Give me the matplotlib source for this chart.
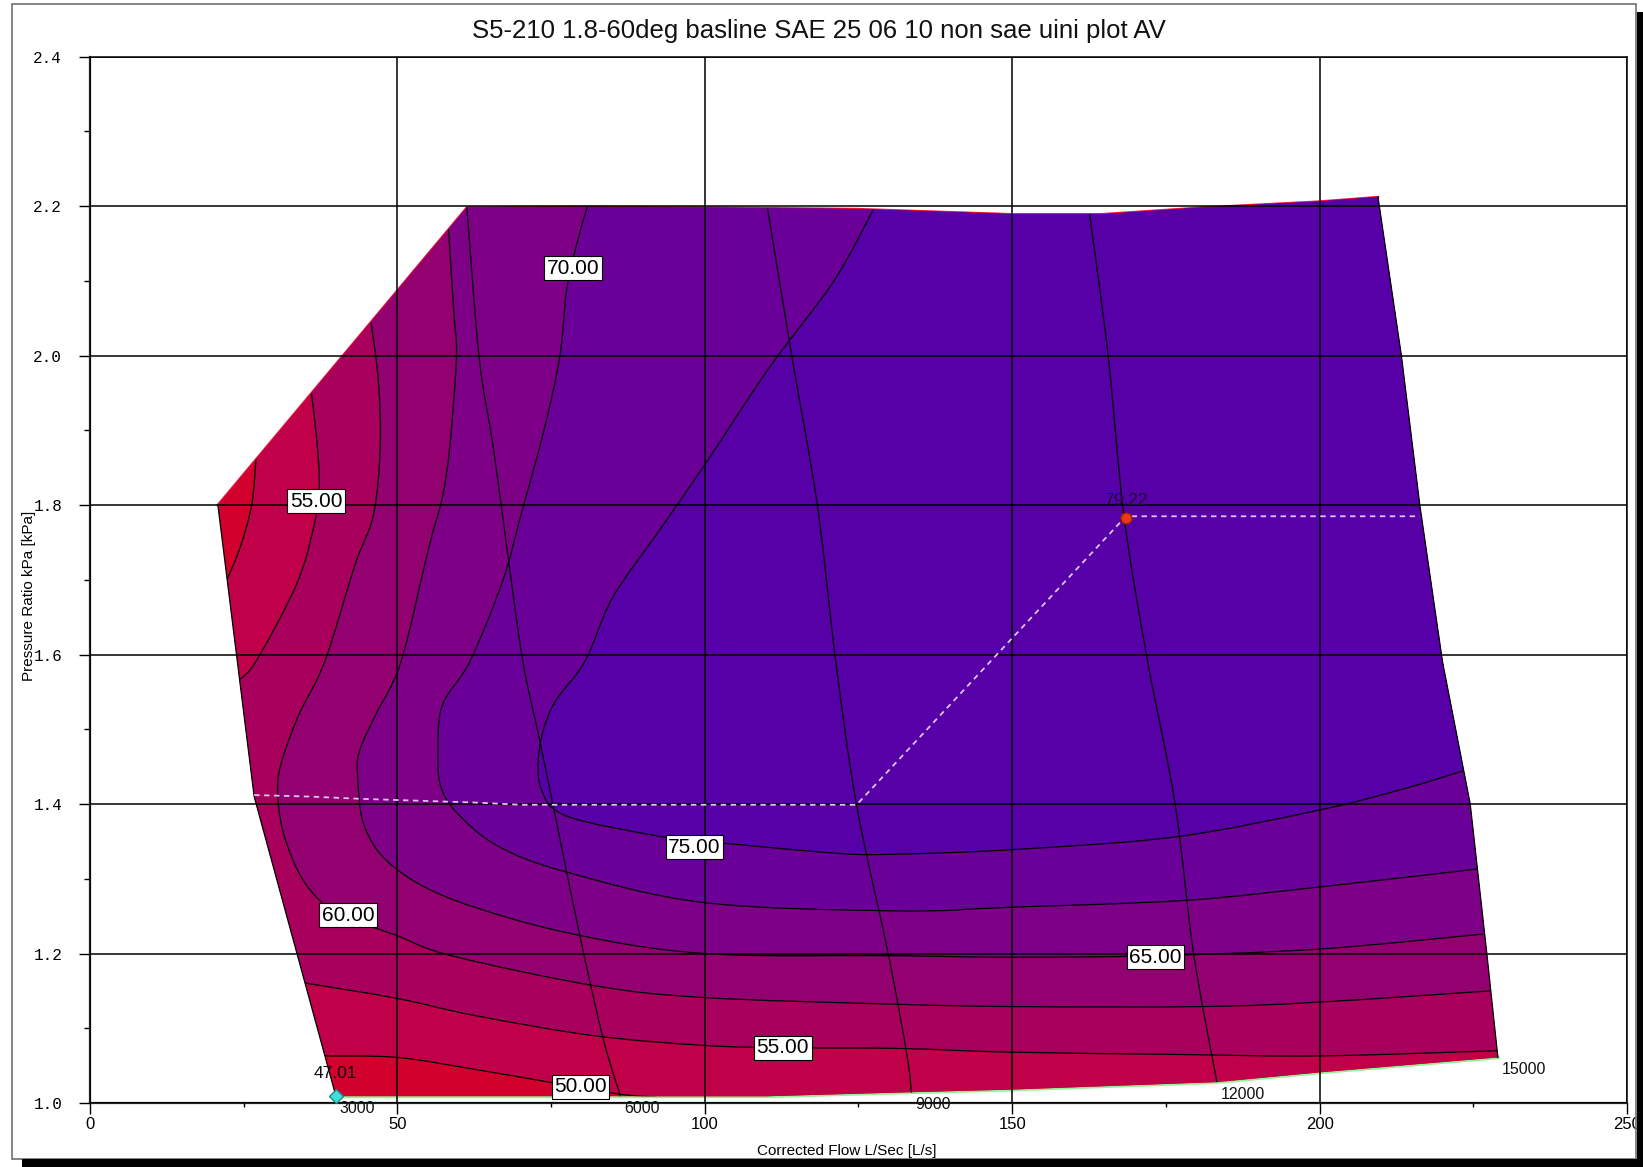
import numpy as np
import matplotlib
matplotlib.use("Agg")
import matplotlib.pyplot as plt
from matplotlib.patches import Polygon, Rectangle, PathPatch
from matplotlib.path import Path
from matplotlib.ticker import MultipleLocator, FormatStrFormatter

plt.rcParams['font.family'] = ['Liberation Sans', 'DejaVu Sans']

TITLE = "S5-210 1.8-60deg basline SAE 25 06 10 non sae uini plot AV"
X_LABEL = "Corrected Flow L/Sec [L/s]"
Y_LABEL = "Pressure Ratio kPa [kPa]"
X_MIN, X_MAX = 0, 250
Y_MIN, Y_MAX = 1.0, 2.4

# ---- map outline (flow, pressure ratio) ----
map_x = [40.0, 26.7, 20.8, 61.3, 80.0, 99.3, 124.7, 150.0, 164.5, 181.0, 200.0, 209.5,
         213.3, 216.3, 220.0, 224.5, 227.2, 229.0, 200.0, 183.3, 150.0, 131.5, 110.0]
map_y = [1.009, 1.410, 1.800, 2.198, 2.199, 2.198, 2.196, 2.189, 2.189, 2.198, 2.206, 2.212,
         2.000, 1.800, 1.590, 1.400, 1.200, 1.061, 1.041, 1.028, 1.018, 1.014, 1.009]

# ---- speed lines ----
speed_names = ["3000", "6000", "9000", "12000", "15000"]
sl3000_x = [20.8, 26.7, 40.0]
sl3000_y = [1.800, 1.410, 1.009]
sl6000_x = [61.3, 63.3, 65.6, 67.8, 70.4, 73.1, 76.0, 79.8, 83.5, 86.3]
sl6000_y = [2.198, 1.997, 1.877, 1.743, 1.591, 1.487, 1.371, 1.219, 1.085, 1.009]
sl9000_x = [110.2, 114.2, 118.3, 121.3, 124.7, 129.9, 132.9, 133.6]
sl9000_y = [2.197, 1.997, 1.800, 1.591, 1.398, 1.197, 1.063, 1.014]
sl12000_x = [162.6, 165.6, 168.2, 172.0, 176.5, 179.5, 183.3]
sl12000_y = [2.189, 2.000, 1.784, 1.592, 1.400, 1.200, 1.028]
sl15000_x = [209.5, 213.3, 216.3, 220.0, 224.5, 227.2, 229.0]
sl15000_y = [2.212, 2.000, 1.800, 1.590, 1.400, 1.200, 1.061]

# ---- efficiency iso-lines ----
levels = [50, 55, 60, 65, 70, 75]
c50_top_x = [27.0, 26.3, 24.4, 22.0]
c50_top_y = [1.862, 1.800, 1.743, 1.695]
c50_bot_x = [37.9, 49.9, 62.6, 75.3, 86.0, 92.0]
c50_bot_y = [1.063, 1.061, 1.045, 1.027, 1.012, 1.008]
c55_top_x = [36.0, 36.8, 37.3, 36.8, 33.8, 27.0, 24.0]
c55_top_y = [1.950, 1.894, 1.832, 1.787, 1.698, 1.591, 1.565]
c55_bot_x = [34.6, 49.9, 62.6, 82.0, 100.0, 112.9, 131.5, 150.0, 176.5, 200.0, 229.0]
c55_bot_y = [1.161, 1.140, 1.117, 1.090, 1.077, 1.074, 1.073, 1.068, 1.065, 1.063, 1.070]
c60_x = [45.7, 46.9, 47.2, 46.1, 43.1, 38.2, 34.0, 31.3, 30.5, 31.5, 34.9, 40.1, 49.9, 58.8,
         82.0, 100.0, 131.5, 150.0, 181.0, 200.0, 227.8]
c60_y = [2.045, 1.966, 1.877, 1.787, 1.720, 1.591, 1.520, 1.460, 1.420, 1.360, 1.295, 1.255,
         1.224, 1.197, 1.157, 1.141, 1.132, 1.129, 1.129, 1.135, 1.150]
c65_x = [58.3, 59.2, 59.6, 58.5, 57.3, 55.1, 50.6, 46.5, 44.0, 43.5, 44.6, 49.1, 58.8, 77.5,
         100.0, 131.5, 150.0, 173.0, 200.0, 226.6]
c65_y = [2.170, 2.055, 1.997, 1.877, 1.810, 1.743, 1.591, 1.520, 1.475, 1.442, 1.371, 1.318,
         1.273, 1.228, 1.200, 1.197, 1.195, 1.197, 1.206, 1.226]
c70_x = [80.9, 79.0, 77.5, 76.4, 73.8, 70.1, 67.1, 61.8, 57.3, 56.6, 57.0, 59.6, 66.3, 77.5,
         100.0, 131.5, 150.0, 178.0, 200.0, 225.6]
c70_y = [2.200, 2.144, 2.086, 1.998, 1.899, 1.787, 1.698, 1.591, 1.532, 1.470, 1.425, 1.389,
         1.344, 1.309, 1.268, 1.257, 1.262, 1.271, 1.289, 1.313]
c75_x = [127.7, 121.0, 110.5, 100.0, 92.5, 85.0, 80.5, 75.3, 73.1, 73.4, 77.5, 92.5, 100.0,
         121.7, 131.5, 150.0, 176.5, 200.0, 214.0, 223.6]
c75_y = [2.200, 2.100, 1.984, 1.854, 1.765, 1.676, 1.591, 1.532, 1.474, 1.420, 1.384, 1.357,
         1.350, 1.334, 1.333, 1.339, 1.356, 1.392, 1.421, 1.445]

# contour labels
clab_text = ["70.00", "55.00", "60.00", "75.00", "55.00", "50.00", "65.00"]
clab_x = [78.6, 36.75, 42.0, 98.3, 112.7, 79.8, 173.3]
clab_y = [2.117, 1.805, 1.251, 1.342, 1.074, 1.022, 1.195]

# extreme points
max_eff, max_x, max_y = "79.22", 168.5, 1.783
min_eff, min_x, min_y = "47.01", 40.0, 1.009

# operating (dashed) line
op_x = [26.7, 35.6, 43.9, 62.6, 70.1, 92.5, 124.7, 168.5, 216.3]
op_y = [1.412, 1.410, 1.407, 1.402, 1.399, 1.399, 1.399, 1.785, 1.785]

band_colors = ['#D2002D', '#C00048', '#A8005C', '#930070', '#7E0086', '#6B0098', '#5800A8']


def smooth_segs(xs, ys):
    """Catmull-Rom style cubic Bezier through the given points."""
    P = np.column_stack([xs, ys]).astype(float)
    n = len(P)
    verts = [P[0]]
    codes = [Path.MOVETO]
    for i in range(n - 1):
        p0 = P[i - 1] if i > 0 else P[i]
        p1, p2 = P[i], P[i + 1]
        p3 = P[i + 2] if i + 2 < n else P[i + 1]
        verts += [p1 + (p2 - p0) / 6.0, p2 - (p3 - p1) / 6.0, p2]
        codes += [Path.CURVE4] * 3
    return verts, codes


def region_path(parts):
    verts, codes = [], []
    for kind, data in parts:
        if kind == 'smooth':
            v, c = smooth_segs(*data)
            if verts:
                c[0] = Path.LINETO
            verts += v
            codes += c
        else:
            for p in data:
                verts.append(np.asarray(p, float))
                codes.append(Path.LINETO if verts[:-1] else Path.MOVETO)
    verts.append(verts[0])
    codes.append(Path.CLOSEPOLY)
    return Path(verts, codes)


W, H = 1643, 1167
fig = plt.figure(figsize=(W / 100, H / 100), dpi=100)
ax = fig.add_axes([90 / W, 1 - 1103 / H, 1537 / W, 1046.4 / H])
ax.set_xlim(X_MIN, X_MAX)
ax.set_ylim(Y_MIN, Y_MAX)

outline = Polygon(np.column_stack([map_x, map_y]), closed=True, facecolor=band_colors[0],
                  edgecolor='none', zorder=1.0)
ax.add_patch(outline)

region_defs = [
    [('smooth', (c50_top_x, c50_top_y)),
     ('line', [(X_MIN, c50_top_y[-1]), (X_MIN, c50_bot_y[0])]),
     ('smooth', (c50_bot_x, c50_bot_y)),
     ('line', [(c50_bot_x[-1], Y_MIN), (X_MAX, Y_MIN), (X_MAX, Y_MAX), (c50_top_x[0], Y_MAX)])],
    [('smooth', (c55_top_x, c55_top_y)),
     ('line', [(X_MIN, c55_top_y[-1]), (X_MIN, c55_bot_y[0])]),
     ('smooth', (c55_bot_x, c55_bot_y)),
     ('line', [(X_MAX, c55_bot_y[-1]), (X_MAX, Y_MAX), (c55_top_x[0], Y_MAX)])],
]
for cx, cy in [(c60_x, c60_y), (c65_x, c65_y), (c70_x, c70_y), (c75_x, c75_y)]:
    region_defs.append([('smooth', (cx, cy)),
                        ('line', [(X_MAX, cy[-1]), (X_MAX, Y_MAX), (cx[0], Y_MAX)])])

for i, parts in enumerate(region_defs):
    p = PathPatch(region_path(parts), facecolor=band_colors[i + 1], edgecolor='none',
                  zorder=1.01 + i * 0.01)
    ax.add_patch(p)
    p.set_clip_path(outline)

# iso-lines
for cx, cy in [(c50_top_x, c50_top_y), (c50_bot_x, c50_bot_y), (c55_top_x, c55_top_y),
               (c55_bot_x, c55_bot_y), (c60_x, c60_y), (c65_x, c65_y), (c70_x, c70_y),
               (c75_x, c75_y)]:
    v, c = smooth_segs(cx, cy)
    pp = PathPatch(Path(v, c), fill=False, edgecolor='black', lw=0.9, zorder=2)
    ax.add_patch(pp)
    pp.set_clip_path(outline)

# outline edges
ax.plot(map_x[2:12], map_y[2:12], color='#E8103A', lw=1.8, zorder=0.9)
ax.plot(map_x[17:] + [map_x[0]], map_y[17:] + [map_y[0]], color='#98F098', lw=2.8, zorder=0.9)

# speed lines
ax.plot(sl3000_x, sl3000_y, color='black', lw=0.9, zorder=2)
ax.plot(sl15000_x, sl15000_y, color='black', lw=0.9, zorder=2)
for sx, sy in [(sl6000_x, sl6000_y), (sl9000_x, sl9000_y), (sl12000_x, sl12000_y)]:
    v, c = smooth_segs(sx, sy)
    ax.add_patch(PathPatch(Path(v, c), fill=False, edgecolor='black', lw=0.9, zorder=2))
speed_ends = [(sl3000_x[-1], sl3000_y[-1]), (sl6000_x[-1], sl6000_y[-1]),
              (sl9000_x[-1], sl9000_y[-1]), (sl12000_x[-1], sl12000_y[-1]),
              (sl15000_x[-1], sl15000_y[-1])]
for name, (ex, ey) in zip(speed_names, speed_ends):
    ax.annotate(name, (ex, ey), xytext=(2.5, -3.5), textcoords='offset points',
                ha='left', va='top', fontsize=11.5, color='#111111', zorder=6,
                annotation_clip=False)

# operating line
ax.plot(op_x, op_y, color='#DCC4F0', lw=1.3, dashes=(3, 2.5), zorder=3)

# extreme points
ax.plot([max_x], [max_y], marker='o', ms=8, mfc='#E83818', mec='#902000', mew=1.0,
        ls='none', zorder=4)
ax.text(max_x, max_y + 0.023, max_eff, ha='center', va='center', fontsize=12.5,
        color='#1A1030', zorder=5)
ax.plot([min_x], [min_y], marker='D', ms=7, mfc='#40E0D8', mec='#208888', mew=1.0,
        ls='none', zorder=4, clip_on=False)
ax.text(min_x - 0.1, min_y + 0.031, min_eff, ha='center', va='center', fontsize=12.5,
        color='#111111', zorder=5)

# contour labels
for t, lx, ly in zip(clab_text, clab_x, clab_y):
    tx = ax.text(lx, ly, t, ha='center', va='center', fontsize=15, color='black', zorder=6,
                 bbox=dict(boxstyle='square,pad=0.12', fc='white', ec='black', lw=0.8))
    if t == "50.00":
        tx.set_clip_path(outline)

# axes styling
ax.xaxis.set_major_locator(MultipleLocator(50))
ax.xaxis.set_minor_locator(MultipleLocator(25))
ax.yaxis.set_major_locator(MultipleLocator(0.2))
ax.yaxis.set_minor_locator(MultipleLocator(0.1))
ax.yaxis.set_major_formatter(FormatStrFormatter('%.1f'))
ax.xaxis.set_major_formatter(FormatStrFormatter('%d'))
ax.grid(which='major', color='black', lw=1.1)
ax.set_axisbelow(False)
ax.tick_params(axis='x', which='major', direction='out', length=8, width=1.0, pad=2,
               labelsize=12)
ax.tick_params(axis='x', which='minor', direction='out', length=3, width=1.0)
ax.tick_params(axis='y', which='major', direction='out', length=8, width=1.0, pad=12,
               labelsize=11.5, labelfontfamily='Liberation Mono')
ax.tick_params(axis='y', which='minor', direction='out', length=4, width=1.0)
for s in ['left', 'bottom']:
    ax.spines[s].set_linewidth(1.6)
    ax.spines[s].set_color('#222222')
for s in ['top', 'right']:
    ax.spines[s].set_linewidth(1.1)
    ax.spines[s].set_color('black')

fig.text(819 / W, 1 - 31 / H, TITLE, ha='center', va='center', fontsize=18.5, color='#111111')
fig.text(847 / W, 1 - 1151 / H, X_LABEL, ha='center', va='center', fontsize=11)
fig.text(29 / W, 1 - 596 / H, Y_LABEL, ha='center', va='center', rotation=90, fontsize=11)

# frame with shadow
fig.add_artist(Rectangle((12 / W, 1 - 1159 / H), 1624 / W, 1155 / H, transform=fig.transFigure,
                         fill=False, edgecolor='#707070', lw=1.2, zorder=10))
fig.add_artist(Rectangle((22 / W, 0), (W - 22) / W, 8 / H, transform=fig.transFigure,
                         facecolor='black', edgecolor='none', zorder=11))
fig.add_artist(Rectangle((1637 / W, 0), 6 / W, (H - 12) / H, transform=fig.transFigure,
                         facecolor='black', edgecolor='none', zorder=11))

fig.savefig('out.png', dpi=100)
